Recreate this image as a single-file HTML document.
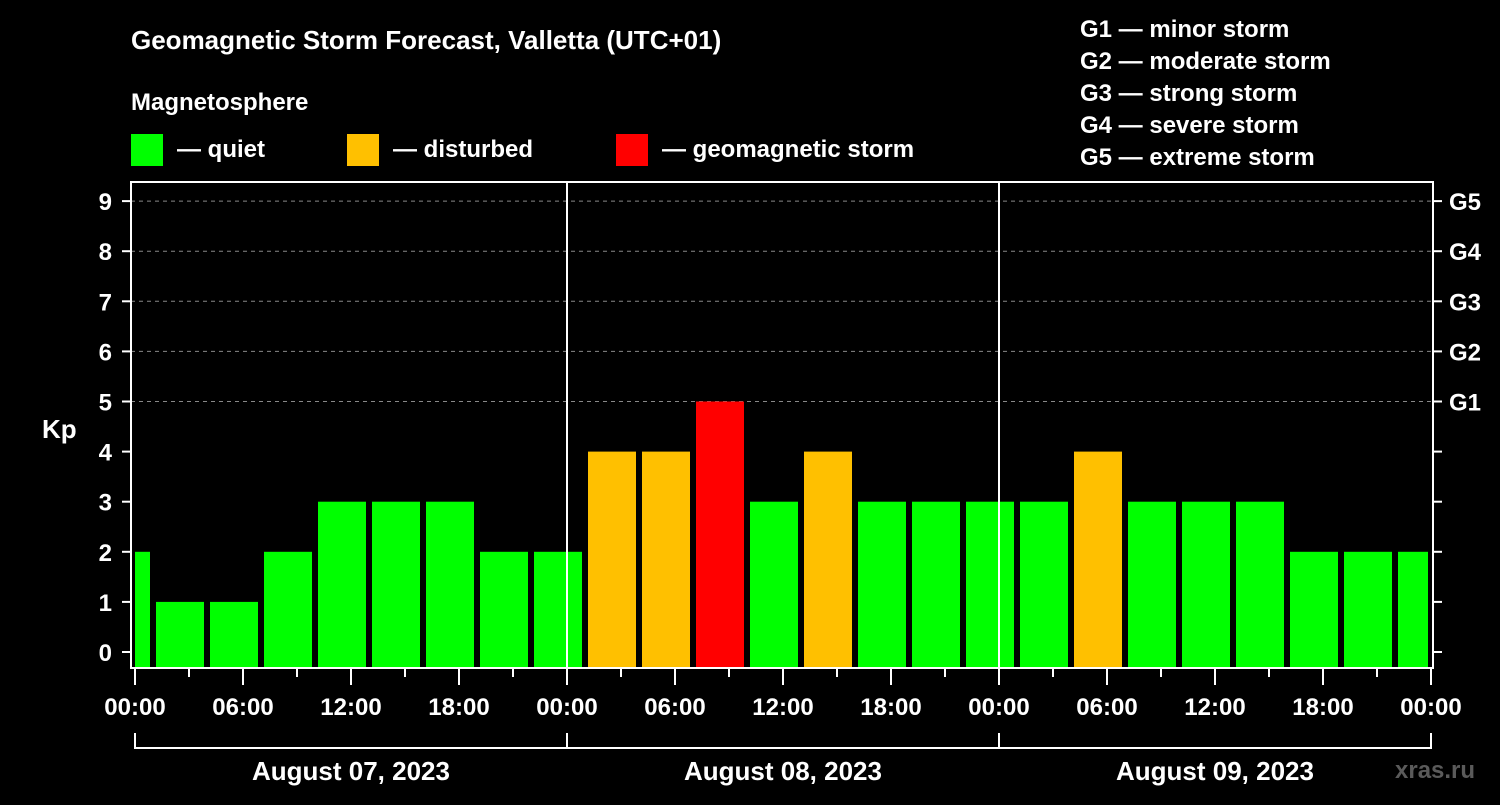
<!DOCTYPE html>
<html><head><meta charset="utf-8"><style>
body{margin:0;background:#000;}
svg text{font-family:"Liberation Sans",sans-serif;font-weight:bold;fill:#fff;}
</style></head><body>
<svg id="c" width="1500" height="800">
<rect width="1500" height="800" fill="#000"/>
<text x="131" y="49" font-size="26">Geomagnetic Storm Forecast, Valletta (UTC+01)</text>
<text x="131" y="110" font-size="24">Magnetosphere</text>
<g><rect x="131" y="134" width="32" height="32" fill="#00ff00"/><text x="177" y="157" font-size="24">— quiet</text></g>
<g><rect x="347" y="134" width="32" height="32" fill="#ffc000"/><text x="393" y="157" font-size="24">— disturbed</text></g>
<g><rect x="616" y="134" width="32" height="32" fill="#ff0000"/><text x="662" y="157" font-size="24">— geomagnetic storm</text></g>
<g font-size="24">
<text x="1080" y="37">G1 — minor storm</text><text x="1080" y="69">G2 — moderate storm</text><text x="1080" y="101">G3 — strong storm</text><text x="1080" y="133">G4 — severe storm</text><text x="1080" y="165">G5 — extreme storm</text></g>
<text x="42" y="438" font-size="26">Kp</text>
<text x="1395" y="778" font-size="24" fill="#555" style="fill:#5a5a5a">xras.ru</text>
<g id="plot"></g>
</svg>
<script>
const kpValues=[2,1,1,2,3,3,3,2,2,4,4,5,3,4,3,3,3,3,4,3,3,3,2,2,2];
const yTicks=[0,1,2,3,4,5,6,7,8,9];
const gLabels=["G1","G2","G3","G4","G5"];
const dayLabels=["August 07, 2023","August 08, 2023","August 09, 2023"];
const hourTicks=["00:00","06:00","12:00","18:00"];
const NS="http://www.w3.org/2000/svg";
const g=document.getElementById('plot');
const L=131,R=1433,T=182,B=668,X0=135;
const xs=h=>X0+h*18;
const ys=v=>652-v*50.1;
function el(t,a,p){const e=document.createElementNS(NS,t);for(const k in a)e.setAttribute(k,a[k]);(p||g).appendChild(e);return e;}
function col(v){return v>=5?"#ff0000":v>=4?"#ffc000":"#00ff00";}
// grid
for(let v=5;v<=9;v++){const ln=el('line',{x1:L,x2:R,y1:ys(v),y2:ys(v),stroke:'#888','stroke-dasharray':'4,4','stroke-width':1});
}
// bars
kpValues.forEach((v,i)=>{let x1=xs(-2+3*i)+3,x2=x1+48;x1=Math.max(x1,X0);x2=Math.min(x2,1428);
const r=el('rect',{x:x1,y:ys(v),width:x2-x1,height:667-ys(v),fill:col(v)});
});
// frame
const f=el('rect',{x:L,y:T,width:R-L,height:B-T,fill:'none',stroke:'#fff','stroke-width':2});

[1,2].forEach(d=>{const ln=el('line',{x1:xs(24*d),x2:xs(24*d),y1:T,y2:B,stroke:'#fff','stroke-width':2});
});
yTicks.forEach(v=>{el('line',{x1:122,x2:L,y1:ys(v),y2:ys(v),stroke:'#fff','stroke-width':2});
el('line',{x1:R,x2:1442,y1:ys(v),y2:ys(v),stroke:'#fff','stroke-width':2});
const t=el('text',{x:112,y:ys(v)+9,'font-size':24,'text-anchor':'end'});t.textContent=v;

if(v>=5){const gt=el('text',{x:1449,y:ys(v)+9,'font-size':24});gt.textContent=gLabels[v-5];
}});
for(let h=0;h<=72;h+=3){const major=h%6==0;el('line',{x1:xs(h),x2:xs(h),y1:B,y2:major?685:677,stroke:'#fff','stroke-width':2});}
for(let h=0;h<=72;h+=6){const t=el('text',{x:xs(h),y:715,'font-size':24,'text-anchor':'middle'});t.textContent=hourTicks[(h/6)%4];
}
el('line',{x1:xs(0),x2:xs(72),y1:748,y2:748,stroke:'#fff','stroke-width':2});
for(let d=0;d<=3;d++)el('line',{x1:xs(24*d),x2:xs(24*d),y1:733,y2:749,stroke:'#fff','stroke-width':2});
dayLabels.forEach((s,d)=>{const t=el('text',{x:xs(24*d+12),y:780,'font-size':26,'text-anchor':'middle'});t.textContent=s;
});
</script>
</body></html>
